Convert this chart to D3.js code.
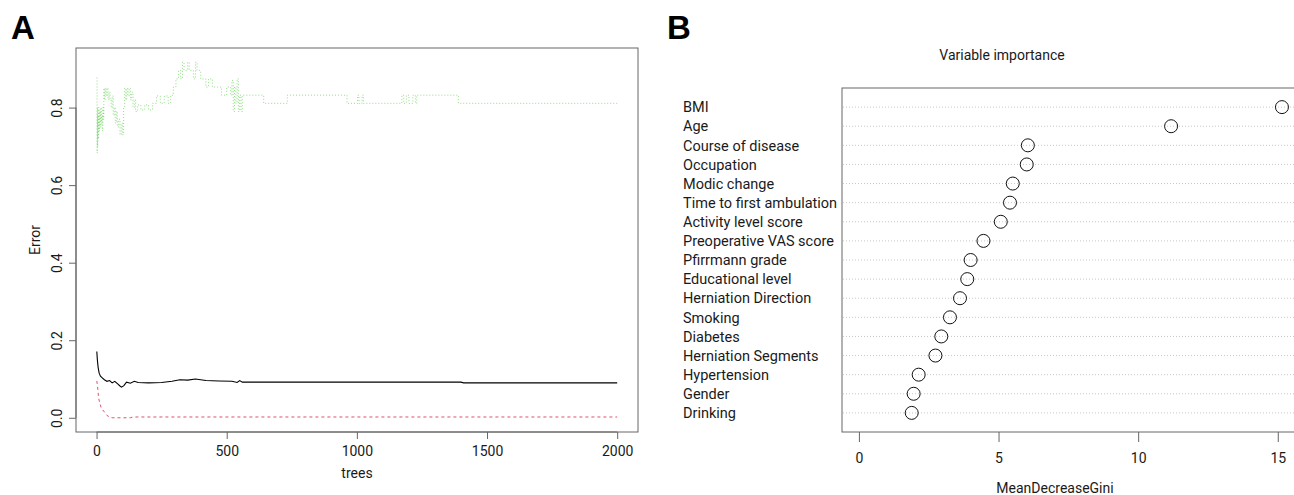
<!DOCTYPE html>
<html>
<head>
<meta charset="utf-8">
<script src="https://cdn.jsdelivr.net/npm/d3@7"></script>
<style>
body{margin:0;background:#fff;}
svg text{font-family:Roboto,"Liberation Sans",sans-serif;fill:#1a1a1a;}
.panel{font-family:"Liberation Sans",Arial,sans-serif !important;font-weight:bold;font-size:33px;fill:#000 !important;}
</style>
</head>
<body>
<div id="chart"></div>
<script>
// panel A: OOB error vs number of trees as [tree, error] break points
var oobErr=[[1,0.171],[3,0.15],[6,0.13],[10,0.115],[15,0.107],[22,0.103],[30,0.098],[40,0.094],[50,0.096],[60,0.09],[70,0.094],[80,0.088],[90,0.082],[96,0.079],[105,0.083],[115,0.092],[130,0.089],[145,0.094],[160,0.091],[200,0.09],[250,0.091],[290,0.094],[320,0.098],[350,0.097],[380,0.1],[420,0.096],[470,0.095],[520,0.094],[540,0.091],[550,0.096],[560,0.092],[700,0.092],[1000,0.092],[1400,0.092],[1410,0.09],[2000,0.09]];
var class1Err=[[1,0.095],[4,0.08],[8,0.05],[12,0.04],[18,0.025],[24,0.02],[30,0.015],[40,0.006],[50,0.002],[60,0],[130,0],[140,0.002],[2000,0.002]];
var class2Err=[[1,0.877],[2,0.683],[3,0.8],[4,0.7],[5,0.78],[6,0.72],[8,0.8],[10,0.74],[12,0.79],[14,0.75],[16,0.8],[18,0.76],[20,0.78],[22,0.74],[24,0.8],[26,0.77],[28,0.85],[30,0.82],[33,0.85],[36,0.83],[40,0.85],[44,0.82],[48,0.84],[52,0.82],[56,0.8],[60,0.83],[64,0.78],[68,0.8],[72,0.76],[76,0.79],[80,0.75],[85,0.77],[90,0.73],[95,0.76],[100,0.73],[104,0.8],[108,0.85],[112,0.82],[116,0.85],[120,0.83],[125,0.85],[130,0.82],[135,0.84],[140,0.8],[145,0.82],[150,0.79],[158,0.807],[170,0.794],[185,0.807],[200,0.794],[215,0.811],[230,0.83],[245,0.811],[260,0.83],[275,0.811],[285,0.832],[295,0.853],[305,0.874],[315,0.896],[323,0.874],[330,0.917],[336,0.896],[342,0.896],[350,0.917],[356,0.896],[365,0.896],[372,0.874],[380,0.917],[386,0.896],[395,0.896],[400,0.874],[408,0.874],[420,0.853],[430,0.874],[445,0.853],[465,0.853],[480,0.832],[500,0.853],[515,0.832],[520,0.87],[525,0.79],[530,0.853],[535,0.811],[540,0.874],[545,0.79],[550,0.832],[555,0.79],[560,0.832],[642,0.811],[733,0.832],[962,0.811],[1003,0.832],[1008,0.811],[1020,0.832],[1025,0.811],[1173,0.832],[1180,0.811],[1190,0.832],[1200,0.811],[1215,0.832],[1225,0.811],[1230,0.832],[1390,0.811],[2000,0.811]];
var treeTicks=[0,500,1000,1500,2000];
var errTicks=[0,0.2,0.4,0.6,0.8];

// panel B: variable importance
var variables=['BMI','Age','Course of disease','Occupation','Modic change','Time to first ambulation','Activity level score','Preoperative VAS score','Pfirrmann grade','Educational level','Herniation Direction','Smoking','Diabetes','Herniation Segments','Hypertension','Gender','Drinking'];
var giniValues=[15.15,11.18,6.05,6.01,5.51,5.41,5.08,4.46,4.0,3.88,3.62,3.26,2.95,2.74,2.14,1.96,1.89];
var giniTicks=[0,5,10,15];

var svg=d3.select('#chart').append('svg').attr('width',1294).attr('height',495);
var boxCol='#666';

// ---- panel A ----
var xA=d3.scaleLinear().domain([1-0.04*1999,2000+0.04*1999]).range([76,638]);
var yA=d3.scaleLinear().domain([-0.0367,0.9537]).range([432,48]);
var gA=svg.append('g');
gA.append('rect').attr('x',76).attr('y',48).attr('width',562).attr('height',384).attr('fill','none').attr('stroke',boxCol);

var lineA=d3.line().x(function(d){return xA(d[0]);}).y(function(d){return yA(d[1]);});
var stepA=d3.line().curve(d3.curveStepAfter).x(function(d){return xA(d[0]);}).y(function(d){return yA(d[1]);});
gA.append('path').datum(class2Err).attr('d',stepA).attr('fill','none').attr('stroke','#61D04F').attr('stroke-opacity',0.7).attr('stroke-width',1).attr('stroke-dasharray','1,2');
gA.append('path').datum(class1Err).attr('d',lineA).attr('fill','none').attr('stroke','#DF536B').attr('stroke-width',1).attr('stroke-dasharray','3,3');
gA.append('path').datum(oobErr).attr('d',lineA).attr('fill','none').attr('stroke','#000').attr('stroke-width',1.1);

var axA=gA.append('g').attr('transform','translate(0,432)').call(d3.axisBottom(xA).tickValues(treeTicks).tickFormat(d3.format('d')).tickSize(7).tickPadding(5).tickSizeOuter(0));
axA.select('.domain').attr('d','M'+xA(0)+',0H'+xA(2000)).attr('stroke',boxCol);
axA.selectAll('.tick line').attr('stroke',boxCol);
axA.selectAll('.tick text').attr('font-size',14).attr('fill','#1a1a1a').attr('dy','0.85em');

var ayA=gA.append('g').attr('transform','translate(76,0)').call(d3.axisLeft(yA).tickValues(errTicks).tickFormat(d3.format('.1f')).tickSize(7).tickSizeOuter(0));
ayA.select('.domain').attr('d','M0,'+yA(0)+'V'+yA(0.8)).attr('stroke',boxCol);
ayA.selectAll('.tick line').attr('stroke',boxCol);
ayA.selectAll('.tick text').attr('font-size',14).attr('fill','#1a1a1a').attr('text-anchor','middle').attr('x',0).attr('dy',0)
  .attr('transform','translate(-14,0) rotate(-90)');
gA.append('text').attr('x',357).attr('y',478).attr('text-anchor','middle').attr('font-size',14).text('trees');
gA.append('text').attr('transform','translate(40,240) rotate(-90)').attr('text-anchor','middle').attr('font-size',14).text('Error');
svg.append('text').attr('class','panel').attr('x',11).attr('y',39).text('A');

// ---- panel B ----
var xB=d3.scaleLinear().domain([-0.606,15.76]).range([842,1299]);
var yB=d3.scaleLinear().domain([0,18]).range([432,88]);
var gB=svg.append('g');
var n=variables.length;
gB.selectAll('line.guide').data(variables).enter().append('line').attr('class','guide')
  .attr('x1',843).attr('x2',1294).attr('y1',function(d,i){return yB(n-i);}).attr('y2',function(d,i){return yB(n-i);})
  .attr('stroke','#c8c8c8').attr('stroke-dasharray','1,2');
gB.append('rect').attr('x',842).attr('y',88).attr('width',457).attr('height',344).attr('fill','none').attr('stroke',boxCol);
gB.selectAll('circle').data(giniValues).enter().append('circle')
  .attr('cx',function(d){return xB(d);}).attr('cy',function(d,i){return yB(n-i);}).attr('r',6.5)
  .attr('fill','none').attr('stroke','#111').attr('stroke-width',1);
gB.selectAll('text.lab').data(variables).enter().append('text').attr('class','lab')
  .attr('x',683).attr('y',function(d,i){return yB(n-i);}).attr('dy','0.36em').attr('font-size',14.5).text(function(d){return d;});

var axB=gB.append('g').attr('transform','translate(0,432)').call(d3.axisBottom(xB).tickValues(giniTicks).tickSize(10).tickPadding(9).tickSizeOuter(0));
axB.select('.domain').remove();
axB.selectAll('.tick line').attr('stroke',boxCol);
axB.selectAll('.tick text').attr('font-size',14).attr('fill','#1a1a1a').attr('dy','0.85em');
gB.append('text').attr('x',1055).attr('y',493).attr('text-anchor','middle').attr('font-size',14).text('MeanDecreaseGini');
gB.append('text').attr('x',1002).attr('y',60).attr('text-anchor','middle').attr('font-size',14).text('Variable importance');
svg.append('text').attr('class','panel').attr('x',667).attr('y',39).text('B');
</script>
</body>
</html>
